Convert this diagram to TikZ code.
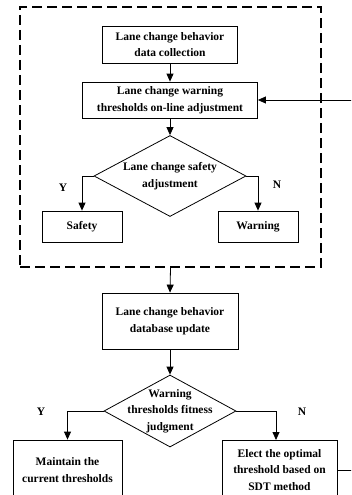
\documentclass[tikz,border=0pt]{standalone}
\usepackage{fontspec}
\setmainfont{Liberation Serif}
\usetikzlibrary{shapes.geometric,arrows.meta}
\begin{document}
\begin{tikzpicture}[x=1pt,y=-1pt,
  every node/.style={font=\bfseries\fontsize{11.5}{16.5}\selectfont, align=center, inner sep=0pt},
  procbox/.style={draw, line width=0.8pt, rectangle},
  decision/.style={draw, line width=0.8pt, diamond},
  flow/.style={line width=0.8pt, -{Triangle[width=7pt,length=8pt]}},
  plain/.style={line width=0.8pt},
  groupbox/.style={draw, line width=1.3pt, dash pattern=on 10pt off 5pt, rectangle}]
\useasboundingbox (0,0) rectangle (351,495);
\clip (0,0) rectangle (351,495);
% dashed group around the on-line adjustment loop
\node[groupbox, minimum width=301pt, minimum height=260pt] (grp) at (170.5,137) {};
% upper part
\node[procbox, minimum width=135pt, minimum height=37pt] (collect) at (170,44.5) {Lane change behavior\\data collection};
\node[procbox, minimum width=175pt, minimum height=36pt] (adjust) at (170,100) {Lane change warning\\thresholds on-line adjustment};
\node[decision, minimum width=152pt, minimum height=81pt] (safe) at (170,176) {};
\node at (170,176) {Lane change safety\\adjustment};
\node[procbox, minimum width=80pt, minimum height=31pt] (safety) at (82,226.5) {Safety};
\node[procbox, minimum width=80pt, minimum height=31pt] (warning) at (258,226.5) {Warning};
\node at (63,188) {Y};
\node at (277,185) {N};
% lower part
\node[procbox, minimum width=136pt, minimum height=56pt] (update) at (170,321) {Lane change behavior\\database update};
\node[decision, minimum width=132pt, minimum height=72pt] (fit) at (170,411) {};
\node at (170,411) {Warning\\thresholds fitness\\judgment};
\node[procbox, minimum width=109pt, minimum height=60pt] (keep) at (67.5,470) {Maintain the\\current thresholds};
\node[procbox, minimum width=115pt, minimum height=60pt] (elect) at (279.5,470) {Elect the optimal\\threshold based on\\SDT method};
\node at (41,412) {Y};
\node at (302,412) {N};
\coordinate (nturn) at (276,440);
% connectors
\draw[flow] (collect) -- (adjust);
\draw[flow] (adjust) -- (safe.north);
\draw[flow] (safe.west) -| (safety.north);
\draw[flow] (safe.east) -| (warning.north);
\draw[flow] (grp.south) -- (update.north);
\draw[flow] (update) -- (fit.north);
\draw[flow] (fit.west) -| (keep.north);
\draw[flow] (fit.east) -| (nturn);
% feedback from the threshold election to the on-line adjustment
\draw[flow] (elect.east) -- ++(40,0) |- (adjust.east);
\end{tikzpicture}
\end{document}
